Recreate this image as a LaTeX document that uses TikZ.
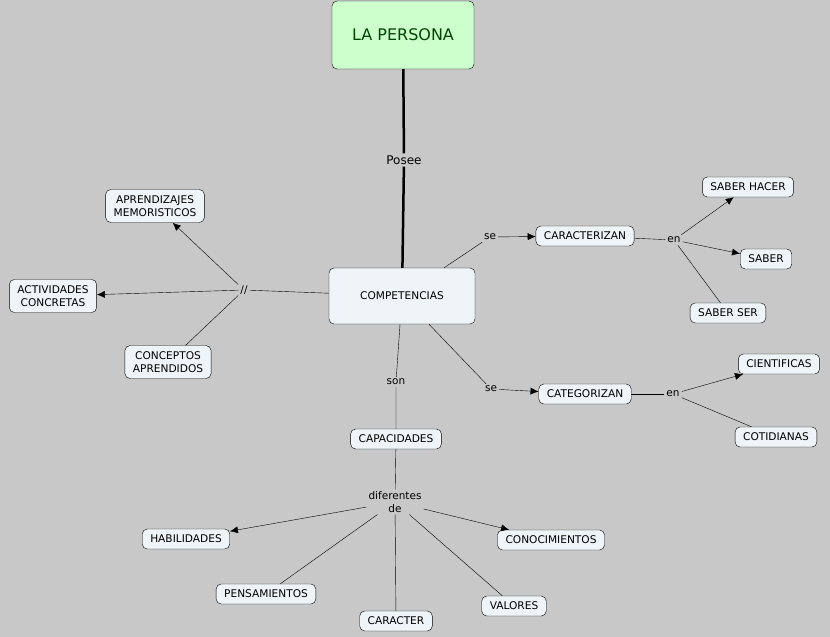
\documentclass[tikz,border=0pt]{standalone}
\usepackage{fontspec}
\setmainfont{DejaVu Sans}
\usetikzlibrary{arrows.meta}
\definecolor{Cbg}{RGB}{200,200,200}
\definecolor{Cbox}{RGB}{238,244,248}
\definecolor{Ctop}{RGB}{204,255,204}
\definecolor{Ctxt}{RGB}{0,70,0}
\tikzset{
  concept/.style={draw=black, fill=Cbox, rounded corners=5pt, align=center,
    font=\fontsize{10.6}{13}\selectfont, inner xsep=8pt, inner ysep=6pt},
  link/.style={font=\fontsize{10.5}{12.5}\selectfont, align=center, inner sep=2pt},
  arr/.style={-{Latex[length=8pt,width=7pt]}},
}
\begin{document}
\begin{tikzpicture}[x=1pt,y=-1pt]
  \fill[Cbg] (0,0) rectangle (830,637);
  \useasboundingbox (0,0) rectangle (830,637);

  % concepts
  \node[concept, fill=Ctop, text=Ctxt, font=\fontsize{16}{19}\selectfont,
    minimum width=142pt, minimum height=68pt] (persona) at (403,35) {LA PERSONA};
  \node[concept, minimum width=146pt, minimum height=56pt] (comp) at (402,296) {COMPETENCIAS};
  \node[concept] (carac) at (585,236) {CARACTERIZAN};
  \node[concept] (shacer) at (748,187) {SABER HACER};
  \node[concept] (saber) at (766,259) {SABER};
  \node[concept] (sser) at (728,313) {SABER SER};
  \node[concept] (categ) at (585,394) {CATEGORIZAN};
  \node[concept] (cient) at (779,364) {CIENTIFICAS};
  \node[concept] (cotid) at (776,437) {COTIDIANAS};
  \node[concept] (aprend) at (155,206) {APRENDIZAJES\\MEMORISTICOS};
  \node[concept] (activ) at (53,296) {ACTIVIDADES\\CONCRETAS};
  \node[concept] (concep) at (168,362) {CONCEPTOS\\APRENDIDOS};
  \node[concept] (capac) at (396,439) {CAPACIDADES};
  \node[concept] (habil) at (186,539) {HABILIDADES};
  \node[concept] (conoc) at (551,540) {CONOCIMIENTOS};
  \node[concept] (pens) at (266,594) {PENSAMIENTOS};
  \node[concept] (caract) at (396,621) {CARACTER};
  \node[concept] (valor) at (514,606) {VALORES};

  % linking phrases
  \node[link, font=\fontsize{12}{14}\selectfont] (posee) at (404,160) {Posee};
  \node[link] (se1) at (490,237) {se};
  \node[link] (en1) at (674,240) {en};
  \node[link] (se2) at (491,389) {se};
  \node[link] (en2) at (673,394) {en};
  \node[link] (bar) at (244,290) {//};
  \node[link] (son) at (396,382) {son};
  \node[link] (dif) at (395,502) {diferentes\\de};

  % connectors
  \draw[line width=2.5pt] (persona) -- (posee) -- (comp);
  \draw (comp) -- (se1);
  \draw[arr] (se1) -- (carac);
  \draw (carac) -- (en1);
  \draw[arr] (en1) -- (shacer);
  \draw[arr] (en1) -- (saber);
  \draw (en1) -- (sser);
  \draw (comp) -- (se2);
  \draw[arr] (se2) -- (categ);
  \draw (categ) -- (en2);
  \draw[arr] (en2) -- (cient);
  \draw (en2) -- (cotid);
  \draw (comp) -- (bar);
  \draw[arr] (bar) -- (aprend);
  \draw[arr] (bar) -- (activ);
  \draw (bar) -- (concep);
  \draw (comp) -- (son) -- (capac);
  \draw (capac) -- (dif);
  \draw[arr] (dif) -- (habil);
  \draw[arr] (dif) -- (conoc);
  \draw (dif) -- (pens);
  \draw (dif) -- (caract);
  \draw (dif) -- (valor);
\end{tikzpicture}
\end{document}
